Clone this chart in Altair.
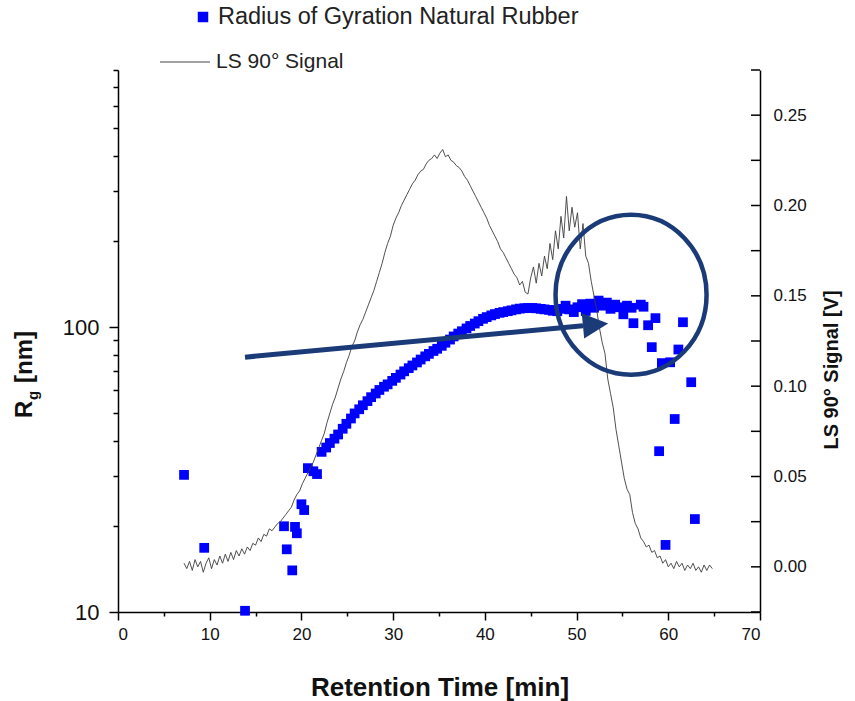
import altair as alt
import pandas as pd

# ---------------- data ----------------
rg_time = [7.2, 9.4, 13.85, 18.1, 18.4, 19.0, 19.3, 19.5, 20.0, 20.3, 20.7, 21.3, 21.7,
           22.2, 22.7, 23.1, 23.6, 24.0, 24.5, 24.9, 25.4, 25.8, 26.3, 26.7, 27.2, 27.6,
           28.1, 28.5, 29.0, 29.4, 29.9, 30.3, 30.8, 31.2, 31.7, 32.1, 32.6, 33.0, 33.5,
           33.9, 34.4, 34.8, 35.3, 35.7, 36.2, 36.6, 37.1, 37.5, 38.0, 38.4, 38.9, 39.3,
           39.8, 40.2, 40.7, 41.1, 41.6, 42.0, 42.5, 42.9, 43.4, 43.8, 44.3, 44.7, 45.2,
           45.6, 46.1, 46.5, 47.0, 47.4, 47.9, 48.3, 48.8, 49.2, 49.7, 50.1, 50.6, 51.0,
           51.5, 51.9, 52.4, 52.8, 53.3, 53.7, 54.2, 54.6, 55.1, 55.5, 56.0, 56.2, 57.0,
           57.3, 57.8, 58.2, 58.6, 59.0, 59.3, 59.7, 60.2, 60.7, 61.1, 61.6, 62.5, 62.9]
rg_value = [30.3, 16.8, 10.1, 20.0, 16.6, 14.0, 19.9, 18.9, 23.9, 22.8, 32.0, 31.2, 30.5,
            36.5, 37.8, 39.2, 40.6, 42.0, 44.0, 45.8, 47.8, 49.8, 51.5, 53.2, 55.0, 56.8,
            58.5, 60.2, 61.8, 63.0, 64.8, 66.4, 68.2, 70.0, 71.8, 73.4, 75.2, 77.0, 79.0,
            80.6, 82.5, 84.0, 86.0, 88.2, 90.5, 92.8, 95.0, 96.8, 99.0, 101.0, 103.0, 105.0,
            107.0, 108.5, 110.0, 111.2, 112.3, 113.0, 113.8, 114.6, 115.5, 116.2, 116.6, 116.8, 116.8,
            116.5, 116.0, 115.5, 115.0, 114.2, 113.8, 116.0, 119.0, 115.5, 113.0, 117.5, 120.5, 114.0,
            121.0, 117.0, 124.0, 119.0, 122.0, 116.0, 120.0, 117.5, 111.0, 119.0, 117.0, 103.3, 120.0,
            118.0, 101.6, 85.1, 107.6, 36.7, 74.8, 17.2, 75.3, 47.6, 83.5, 104.1, 64.1, 21.2]

ls_time = [7.2, 7.5, 7.8, 8.1, 8.4, 8.7, 9.0, 9.3, 9.6, 9.9, 10.2, 10.5, 10.8, 11.1, 11.4,
           11.7, 12.0, 12.3, 12.6, 12.9, 13.2, 13.5, 13.8, 14.1, 14.4, 14.7, 15.0, 15.3, 15.6,
           15.9, 16.2, 16.5, 16.8, 17.1, 17.4, 17.7, 18.0, 18.3, 18.6, 18.9, 19.2, 19.5, 19.8,
           20.1, 20.4, 20.7, 21.0, 21.3, 21.6, 21.9, 22.2, 22.5, 22.8, 23.1, 23.4, 23.7, 24.0,
           24.3, 24.6, 24.9, 25.2, 25.5, 25.8, 26.1, 26.4, 26.7, 27.0, 27.3, 27.6, 27.9, 28.2,
           28.5, 28.8, 29.1, 29.4, 29.7, 30.0, 30.3, 30.6, 30.9, 31.2, 31.5, 31.8, 32.1, 32.4,
           32.7, 33.0, 33.3, 33.6, 33.9, 34.2, 34.5, 34.8, 35.1, 35.4, 35.7, 36.0, 36.3, 36.6,
           36.9, 37.2, 37.5, 37.8, 38.1, 38.4, 38.7, 39.0, 39.3, 39.6, 39.9, 40.2, 40.5, 40.8,
           41.1, 41.4, 41.7, 42.0, 42.3, 42.6, 42.9, 43.2, 43.5, 43.8, 44.1, 44.4, 44.7, 45.0,
           45.3, 45.6, 45.9, 46.2, 46.5, 46.8, 47.1, 47.4, 47.7, 48.0, 48.3, 48.6, 48.9, 49.2,
           49.5, 49.8, 50.1, 50.4, 50.7, 51.0, 51.3, 51.6, 51.9, 52.2, 52.5, 52.8, 53.1, 53.4,
           53.7, 54.0, 54.3, 54.6, 54.9, 55.2, 55.5, 55.8, 56.1, 56.4, 56.7, 57.0, 57.3, 57.6,
           57.9, 58.2, 58.5, 58.8, 59.1, 59.4, 59.7, 60.0, 60.3, 60.6, 60.9, 61.2, 61.5, 61.8,
           62.1, 62.4, 62.7, 63.0, 63.3, 63.6, 63.9, 64.2, 64.5, 64.8]
ls_signal = [0.002, -0.001, 0.003, -0.002, 0.004, 0.000, 0.003, -0.003, 0.002, 0.005, -0.001,
             0.004, 0.001, 0.006, 0.002, 0.007, 0.003, 0.008, 0.004, 0.009, 0.006, 0.010,
             0.007, 0.011, 0.009, 0.013, 0.012, 0.016, 0.014, 0.018, 0.017, 0.021, 0.020,
             0.022, 0.024, 0.025, 0.027, 0.029, 0.031, 0.033, 0.037, 0.040, 0.042, 0.046,
             0.049, 0.052, 0.055, 0.058, 0.062, 0.066, 0.070, 0.074, 0.080, 0.085, 0.090,
             0.094, 0.099, 0.104, 0.108, 0.113, 0.117, 0.122, 0.125, 0.130, 0.134, 0.137,
             0.141, 0.145, 0.149, 0.153, 0.158, 0.163, 0.168, 0.174, 0.179, 0.183, 0.189,
             0.193, 0.196, 0.200, 0.203, 0.206, 0.209, 0.212, 0.214, 0.217, 0.219, 0.220,
             0.223, 0.225, 0.226, 0.228, 0.226, 0.229, 0.231, 0.227, 0.228, 0.225, 0.224,
             0.222, 0.221, 0.219, 0.216, 0.214, 0.211, 0.208, 0.205, 0.202, 0.199, 0.196,
             0.193, 0.189, 0.186, 0.183, 0.180, 0.176, 0.174, 0.171, 0.168, 0.165, 0.162,
             0.160, 0.156, 0.158, 0.152, 0.151, 0.160, 0.166, 0.157, 0.168, 0.161, 0.172,
             0.165, 0.179, 0.170, 0.186, 0.176, 0.194, 0.182, 0.205, 0.186, 0.199, 0.188,
             0.196, 0.176, 0.190, 0.172, 0.168, 0.158, 0.150, 0.142, 0.132, 0.124, 0.118,
             0.104, 0.096, 0.088, 0.076, 0.067, 0.058, 0.049, 0.043, 0.040, 0.030, 0.024,
             0.021, 0.016, 0.014, 0.011, 0.012, 0.008, 0.009, 0.005, 0.006, 0.002, 0.004,
             0.000, 0.002, -0.001, 0.003, 0.000, 0.002, -0.002, 0.001, -0.001, 0.002, -0.002,
             0.000, -0.003, 0.001, -0.002, 0.001, -0.001]

x_ticks = [0, 5, 10, 15, 20, 25, 30, 35, 40, 45, 50, 55, 60, 65, 70]
left_ticks = [10, 20, 30, 40, 50, 60, 70, 80, 90, 100, 200, 300, 400, 500, 600, 700, 800]
right_labels = [0.0, 0.05, 0.10, 0.15, 0.20, 0.25]
right_ticks = [-0.025, 0.0, 0.025, 0.05, 0.075, 0.10, 0.125, 0.15, 0.175, 0.20, 0.225, 0.25, 0.275]

# annotation anchors (data coordinates)
arrow_t = [13.85]
arrow_rg = [78.5]
arrow_t2 = [50.7]
arrow_rg2 = [101.2]
head_t = [52.07]
head_rg = [102.0]
ring_t = [55.94]
ring_rg = [130.0]

assert len(ls_time) == len(ls_signal)
assert len(rg_time) == len(rg_value)

FONT = "Liberation Sans"
NAVY = "#1b3a78"
W, H = 642, 542

rg_df = pd.DataFrame({"t": rg_time, "rg": rg_value})
ls_df = pd.DataFrame({"t": ls_time, "v": ls_signal})
rt_df = pd.DataFrame({"v": right_ticks})
one = pd.DataFrame({"a": [0]})

x_scale = alt.Scale(domain=[0, 70], nice=False, zero=False)
y_left_scale = alt.Scale(type="log", domain=[10, 800], nice=False)
y_right_scale = alt.Scale(domain=[-0.025, 0.275], nice=False, zero=False)

x_axis = alt.Axis(
    values=x_ticks,
    labelExpr="datum.value % 10 == 0 ? datum.label : ''",
    tickSize={"condition": {"test": "datum.value % 10 == 0", "value": 8}, "value": 4},
    labelFontSize=17, labelPadding=6, labelFont=FONT, labelColor="#111",
    domainColor="black", tickColor="black", domainWidth=1.5, tickWidth=1.5, grid=False,
)

left_axis = alt.Axis(
    orient="left",
    values=left_ticks,
    labelExpr="datum.value == 10 || datum.value == 100 ? format(datum.value, 'd') : ''",
    tickSize={"condition": {"test": "datum.value == 10 || datum.value == 100", "value": 9}, "value": 5},
    labelFontSize=22, labelPadding=10, labelFont=FONT, labelColor="#111",
    domainColor="black", tickColor="black", domainWidth=1.5, tickWidth=1.5, grid=False,
)

right_axis = alt.Axis(
    orient="right",
    values=right_labels,
    format=".2f",
    ticks=False,
    labelFontSize=17, labelPadding=13, labelFont=FONT, labelColor="#111",
    domainColor="black", domainWidth=1.5, grid=False,
)

scatter = alt.Chart(rg_df).mark_square(size=95, color="#0000ff", opacity=1).encode(
    x=alt.X("t:Q", scale=x_scale, axis=x_axis, title=None),
    y=alt.Y("rg:Q", scale=y_left_scale, axis=left_axis, title=None),
)

ls_line = alt.Chart(ls_df).mark_line(color="#3c3c3c", strokeWidth=0.9).encode(
    x=alt.X("t:Q", scale=x_scale, title=None),
    y=alt.Y("v:Q", scale=y_right_scale, axis=right_axis, title=None),
)
r_ticks = alt.Chart(rt_df).mark_rule(color="black", strokeWidth=1.5).encode(
    y=alt.Y("v:Q", scale=y_right_scale, title=None),
    x=alt.value(W - 9),
    x2=alt.value(W),
)
right_group = alt.layer(ls_line, r_ticks)

# ---------- annotations: arrow, ring, legend, titles ----------
arr_df = pd.DataFrame({"t": arrow_t, "rg": arrow_rg, "t2": arrow_t2, "rg2": arrow_rg2})
head_df = pd.DataFrame({"t": head_t, "rg": head_rg})
ring_df = pd.DataFrame({"t": ring_t, "rg": ring_rg})

arrow = alt.Chart(arr_df).mark_rule(color=NAVY, strokeWidth=5).encode(
    x=alt.X("t:Q", scale=x_scale, title=None),
    y=alt.Y("rg:Q", scale=y_left_scale, axis=None),
    x2="t2:Q", y2="rg2:Q",
)
head = alt.Chart(head_df).mark_point(
    shape="M-1,-1L1,0L-1,1Z", size=640, filled=True, color=NAVY, opacity=1, angle=354.5
).encode(
    x=alt.X("t:Q", scale=x_scale, title=None),
    y=alt.Y("rg:Q", scale=y_left_scale, axis=None),
)
ring = alt.Chart(ring_df).mark_point(
    shape="M-0.944,0A0.944,1,0,1,0,0.944,0A0.944,1,0,1,0,-0.944,0Z",
    size=25600, filled=False, stroke=NAVY, strokeWidth=4.5, opacity=1,
).encode(
    x=alt.X("t:Q", scale=x_scale, title=None),
    y=alt.Y("rg:Q", scale=y_left_scale, axis=None),
)

leg_sq = alt.Chart(one).mark_square(size=110, color="#0000ff", opacity=1).encode(
    x=alt.value(85), y=alt.value(-53))
leg_t1 = alt.Chart(one).mark_text(
    text="Radius of Gyration Natural Rubber", font=FONT, fontSize=23.5, align="left",
    baseline="middle", color="#222").encode(x=alt.value(100), y=alt.value(-53))
leg_ln = alt.Chart(one).mark_rule(color="#444", strokeWidth=1).encode(
    x=alt.value(42), x2=alt.value(92), y=alt.value(-8))
leg_t2 = alt.Chart(one).mark_text(
    text="LS 90° Signal", font=FONT, fontSize=21, align="left",
    baseline="middle", color="#222").encode(x=alt.value(98), y=alt.value(-8))

x_title = alt.Chart(one).mark_text(
    text="Retention Time [min]", font=FONT, fontSize=26, fontWeight="bold",
    align="center", baseline="middle", color="#111").encode(x=alt.value(322), y=alt.value(618))
r_title = alt.Chart(one).mark_text(
    text="LS 90° Signal [V]", font=FONT, fontSize=20, fontWeight="bold", angle=270,
    align="center", baseline="middle", color="#111").encode(x=alt.value(714), y=alt.value(300))
l_title_r = alt.Chart(one).mark_text(
    text="R", font=FONT, fontSize=24, fontWeight="bold", angle=270,
    align="left", baseline="middle", color="#111").encode(x=alt.value(-93), y=alt.value(348))
l_title_g = alt.Chart(one).mark_text(
    text="g", font=FONT, fontSize=15, fontWeight="bold", angle=270,
    align="left", baseline="middle", color="#111").encode(x=alt.value(-85), y=alt.value(330))
l_title_nm = alt.Chart(one).mark_text(
    text="[nm]", font=FONT, fontSize=24, fontWeight="bold", angle=270,
    align="left", baseline="middle", color="#111").encode(x=alt.value(-93), y=alt.value(313))

annot = alt.layer(arrow, head, ring, leg_sq, leg_t1, leg_ln, leg_t2,
                  x_title, r_title, l_title_r, l_title_g, l_title_nm)

chart = (
    alt.layer(scatter, right_group, annot)
    .resolve_scale(y="independent")
    .properties(
        width=W, height=H,
        autosize=alt.AutoSizeParams(type="none"),
        padding={"left": 118, "top": 70, "right": 95, "bottom": 89},
        background="white",
    )
    .configure_view(stroke=None)
)

chart.save("out.html", embed_options={"renderer": "svg", "actions": False})
